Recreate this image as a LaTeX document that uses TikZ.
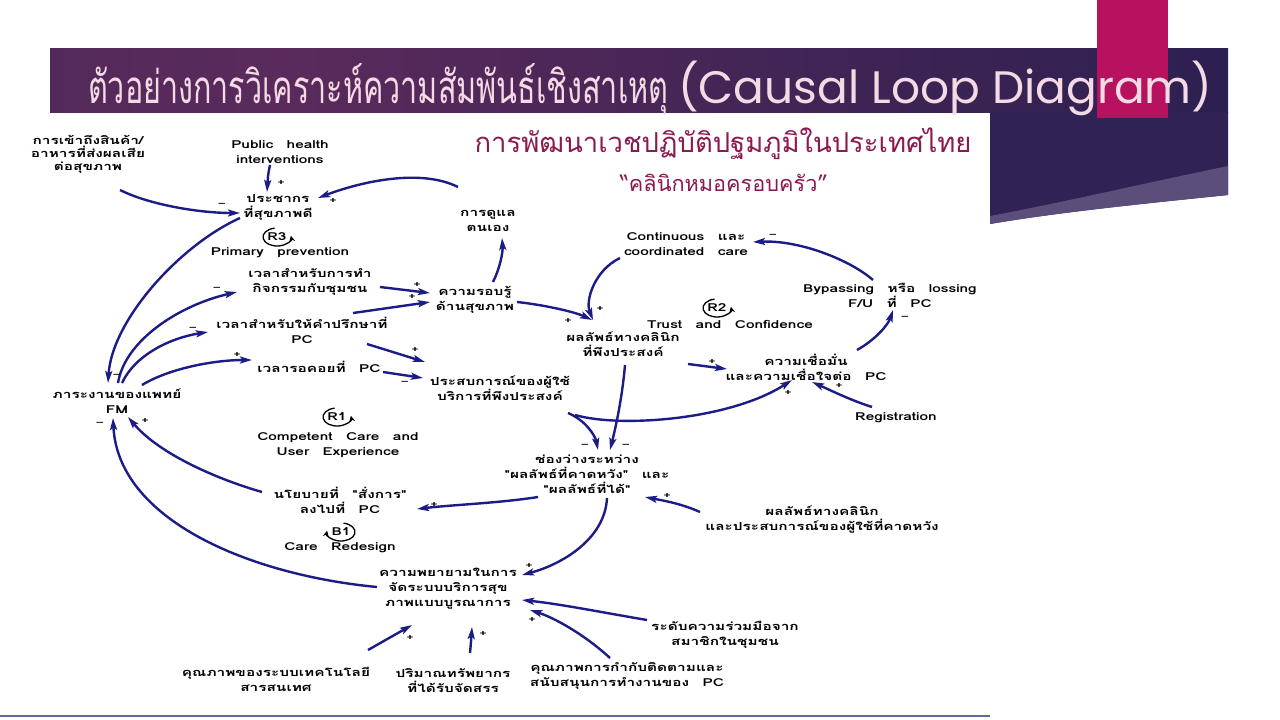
\documentclass[tikz,border=0pt]{standalone}
\usepackage{fontspec}
\usetikzlibrary{arrows.meta,calc}
\newfontfamily\thtitle[Script=Thai]{Loma}
\newfontfamily\latitle{Poppins}
\newfontfamily\dfont[Script=Thai,FakeStretch=1.4,WordSpace=2.6]{Loma}
\definecolor{arrowblue}{RGB}{28,28,135}
\definecolor{bannerL}{RGB}{66,40,88}
\definecolor{bannerM}{RGB}{90,42,92}
\definecolor{bannerR}{RGB}{44,32,80}
\definecolor{panelC}{RGB}{48,34,84}
\definecolor{panelLight}{RGB}{92,78,122}
\definecolor{magentaC}{RGB}{182,18,95}
\definecolor{titlepink}{RGB}{244,218,228}
\definecolor{subred}{RGB}{140,26,80}
\definecolor{lineblue}{RGB}{92,108,158}
\pgfdeclarehorizontalshading{bannershade}{100bp}{color(0bp)=(bannerL); color(35bp)=(bannerM); color(75bp)=(bannerR); color(100bp)=(bannerR)}
\begin{document}
\begin{tikzpicture}[x=1pt,y=-1pt,
  dtext/.style={font=\dfont\bfseries\fontsize{11}{15}\selectfont, align=center, inner sep=0pt, text=black},
  link/.style={draw=arrowblue, line width=2.4pt, -{Stealth[length=12pt,width=7pt,inset=2.5pt]}},
  pm/.style={font=\dfont\bfseries\fontsize{8.5}{8.5}\selectfont, inner sep=0pt, text=black},
  loopline/.style={draw=black, line width=1.3pt, -{Stealth[length=6pt,width=6pt]}}]
\useasboundingbox (0,0) rectangle (1280,720);
\fill[white] (0,0) rectangle (1280,720);
% banner
\shade[shading=bannershade] (50,48) rectangle (1228,112);
\fill[panelC] (990,112) -- (1228,112) -- (1228,195) .. controls (1150,203) and (1060,212) .. (990,224) -- cycle;
\fill[panelLight] (990,216) .. controls (1060,203) and (1150,182) .. (1228,166) -- (1228,195) .. controls (1150,203) and (1060,212) .. (990,224) -- cycle;
\fill[magentaC] (1097,0) rectangle (1168,118);
\node[anchor=base west, inner sep=0pt, text=titlepink] (ttl1) at (88,103) {\resizebox{580pt}{40pt}{\thtitle ตัวอย่างการวิเคราะห์ความสัมพันธ์เชิงสาเหตุ}};
\node[anchor=base west, inner sep=0pt, text=titlepink] (ttl2) at (678,103) {\resizebox{534pt}{!}{\latitle (Causal Loop Diagram)}};
\node[anchor=base, inner sep=0pt, text=subred] (sub1) at (723,152) {\resizebox{497pt}{!}{\thtitle การพัฒนาเวชปฏิบัติปฐมภูมิในประเทศไทย}};
\node[anchor=base, inner sep=0pt, text=subred] (sub2) at (724,191) {\resizebox{208pt}{!}{\thtitle “คลินิกหมอครอบครัว”}};
\draw[draw=lineblue, line width=2pt] (0,716) -- (990,716);

% nodes
\node[dtext, font=\dfont\bfseries\fontsize{11}{13}\selectfont] (acc) at (88,154) {การเข้าถึงสินค้า/\\อาหารที่ส่งผลเสีย\\ต่อสุขภาพ};
\node[dtext] (phi) at (280,152) {Public health\\interventions};
\node[dtext] (popn) at (278,207) {ประชากร\\ที่สุขภาพดี};
\node[dtext] (prim) at (280,253) {Primary prevention};
\node[dtext] (self) at (488,221) {การดูแล\\ตนเอง};
\node[dtext] (comm) at (310,282) {เวลาสำหรับการทำ\\กิจกรรมกับชุมชน};
\node[dtext] (hlit) at (475,300) {ความรอบรู้\\ด้านสุขภาพ};
\node[dtext] (couns) at (302,330) {เวลาสำหรับให้คำปรึกษาที่\\PC};
\node[dtext] (wait) at (319,367) {เวลารอคอยที่ PC};
\node[dtext] (uexp) at (500,388) {ประสบการณ์ของผู้ใช้\\บริการที่พึงประสงค์};
\node[dtext] (work) at (117,401) {ภาระงานของแพทย์\\FM};
\node[dtext] (comp) at (338,445) {Competent Care and\\User Experience};
\node[dtext] (clin) at (623,344) {ผลลัพธ์ทางคลินิก\\ที่พึงประสงค์};
\node[dtext] (trust) at (730,324) {Trust and Confidence};
\node[dtext] (cont) at (686,244) {Continuous และ\\coordinated care};
\node[dtext] (byp) at (890,295) {Bypassing หรือ lossing\\F/U ที่ PC};
\node[dtext] (conf) at (806,367) {ความเชื่อมั่น\\และความเชื่อใจต่อ PC};
\node[dtext] (reg) at (896,418) {Registration};
\node[dtext] (gap) at (587,474) {ช่องว่างระหว่าง\\"ผลลัพธ์ที่คาดหวัง" และ\\"ผลลัพธ์ที่ได้"};
\node[dtext] (pol) at (340,500) {นโยบายที่ "สั่งการ"\\ลงไปที่ PC};
\node[dtext] (redes) at (340,548) {Care Redesign};
\node[dtext] (expc) at (822,520) {ผลลัพธ์ทางคลินิก\\และประสบการณ์ของผู้ใช้ที่คาดหวัง};
\node[dtext] (eff) at (448,589) {ความพยายามในการ\\จัดระบบบริการสุข\\ภาพแบบบูรณาการ};
\node[dtext] (coop) at (725,635) {ระดับความร่วมมือจาก\\สมาชิกในชุมชน};
\node[dtext] (monit) at (627,676) {คุณภาพการกำกับติดตามและ\\สนับสนุนการทำงานของ PC};
\node[dtext] (tech) at (276,679) {คุณภาพของระบบเทคโนโลยี\\สารสนเทศ};
\node[dtext] (res) at (453,681) {ปริมาณทรัพยากร\\ที่ได้รับจัดสรร};

% loop markers
\node[dtext] (r3) at (277,237) {R3};
\draw[loopline] ($(r3)+(-100:14 and 9)$) arc[start angle=-100, end angle=-368, x radius=14, y radius=9];
\node[dtext] (r1) at (337,417) {R1};
\draw[loopline] ($(r1)+(-100:14 and 9)$) arc[start angle=-100, end angle=-368, x radius=14, y radius=9];
\node[dtext] (r2) at (717,308) {R2};
\draw[loopline] ($(r2)+(-100:14 and 9)$) arc[start angle=-100, end angle=-368, x radius=14, y radius=9];
\node[dtext] (b1) at (341,532) {B1};
\draw[loopline] ($(b1)+(-80:14 and 9)$) arc[start angle=-80, end angle=188, x radius=14, y radius=9];

% connectors
\draw[link] ($(acc)+(32,36)$) .. controls (150,205) and (200,213) .. ($(popn)+(-38,6)$);
\draw[link] ($(phi)+(-10,13)$) .. controls (268,175) .. ($(popn)+(-11,-15)$);
\draw[link] ($(self)+(-30,-34)$) .. controls (420,168) and (360,182) .. ($(popn)+(40,-9)$);
\draw[link] ($(hlit)+(18,-18)$) .. controls (500,268) and (503,252) .. ($(self)+(14,17)$);
\draw[link] ($(popn)+(-38,11)$) .. controls (180,245) and (112,320) .. ($(work)+(-9,-18)$);
\draw[link] ($(work)+(1,-18)$) .. controls (125,340) and (180,305) .. ($(comm)+(-73,10)$);
\draw[link] ($(work)+(5,-18)$) .. controls (135,355) and (170,338) .. ($(couns)+(-94,2)$);
\draw[link] ($(work)+(25,-16)$) .. controls (170,368) and (215,360) .. ($(wait)+(-67,-7)$);
\draw[link] ($(comm)+(70,5)$) -- ($(hlit)+(-45,-7)$);
\draw[link] ($(couns)+(51,-17)$) -- ($(hlit)+(-45,2)$);
\draw[link] ($(couns)+(65,14)$) -- ($(uexp)+(-75,-26)$);
\draw[link] ($(wait)+(64,5)$) -- ($(uexp)+(-77,-10)$);
\draw[link] ($(hlit)+(42,2)$) .. controls (545,305) and (575,312) .. ($(clin)+(-31,-24)$);
\draw[link] ($(cont)+(-66,14)$) .. controls (595,270) and (585,300) .. ($(clin)+(-30,-24)$);
\draw[link] ($(clin)+(65,20)$) -- ($(conf)+(-79,2)$);
\draw[link] ($(conf)+(51,-17)$) .. controls (875,340) and (888,325) .. ($(byp)+(3,15)$);
\draw[link] ($(byp)+(-17,-15)$) .. controls (850,260) and (800,240) .. ($(cont)+(67,-2)$);
\draw[link] ($(reg)+(-24,-11)$) .. controls (850,400) and (830,390) .. ($(conf)+(6,15)$);
\draw[link] ($(uexp)+(75,27)$) .. controls (620,428) and (730,420) .. ($(conf)+(-14,13)$);
\draw[link] ($(uexp)+(68,25)$) .. controls (585,420) and (595,435) .. ($(gap)+(11,-24)$);
\draw[link] ($(clin)+(2,21)$) .. controls (622,400) and (615,430) .. ($(gap)+(23,-24)$);
\draw[link] ($(gap)+(-49,23)$) .. controls (500,503) and (450,505) .. ($(pol)+(77,9)$);
\draw[link] ($(pol)+(-78,-8)$) .. controls (220,480) and (160,455) .. ($(work)+(11,16)$);
\draw[link] ($(expc)+(-122,-8)$) .. controls (680,503) and (660,500) .. ($(gap)+(58,23)$);
\draw[link] ($(gap)+(20,24)$) .. controls (605,540) and (560,565) .. ($(eff)+(74,-14)$);
\draw[link] ($(eff)+(-71,-2)$) .. controls (250,575) and (118,520) .. ($(work)+(-4,17)$);
\draw[link] ($(coop)+(-78,-15)$) .. controls (600,612) and (560,604) .. ($(eff)+(74,11)$);
\draw[link] ($(monit)+(-17,-18)$) .. controls (585,635) and (555,618) .. ($(eff)+(82,21)$);
\draw[link] ($(tech)+(92,-29)$) -- ($(eff)+(-36,36)$);
\draw[link] ($(res)+(17,-28)$) .. controls (471,642) .. ($(eff)+(24,38)$);

% polarity marks
\node[pm] (p1) at (222,205) {–};
\node[pm] (p2) at (281,183) {+};
\node[pm] (p3) at (333,201) {+};
\node[pm] (p5) at (117,376) {–};
\node[pm] (p6) at (217,289) {–};
\node[pm] (p7) at (193,329) {–};
\node[pm] (p8) at (237,355) {+};
\node[pm] (p9) at (417,285) {+};
\node[pm] (p10) at (412,297) {+};
\node[pm] (p11) at (415,350) {+};
\node[pm] (p12) at (405,383) {–};
\node[pm] (p13) at (568,321) {+};
\node[pm] (p14) at (600,309) {+};
\node[pm] (p15) at (712,362) {+};
\node[pm] (p16) at (905,318) {–};
\node[pm] (p17) at (773,236) {–};
\node[pm] (p18) at (839,386) {+};
\node[pm] (p19) at (788,393) {+};
\node[pm] (p20) at (585,446) {–};
\node[pm] (p21) at (626,446) {–};
\node[pm] (p22) at (434,505) {+};
\node[pm] (p23) at (145,421) {+};
\node[pm] (p24) at (667,496) {+};
\node[pm] (p25) at (529,566) {+};
\node[pm] (p26) at (100,424) {–};
\node[pm] (p28) at (532,620) {+};
\node[pm] (p29) at (410,638) {+};
\node[pm] (p30) at (483,634) {+};
\end{tikzpicture}
\end{document}
